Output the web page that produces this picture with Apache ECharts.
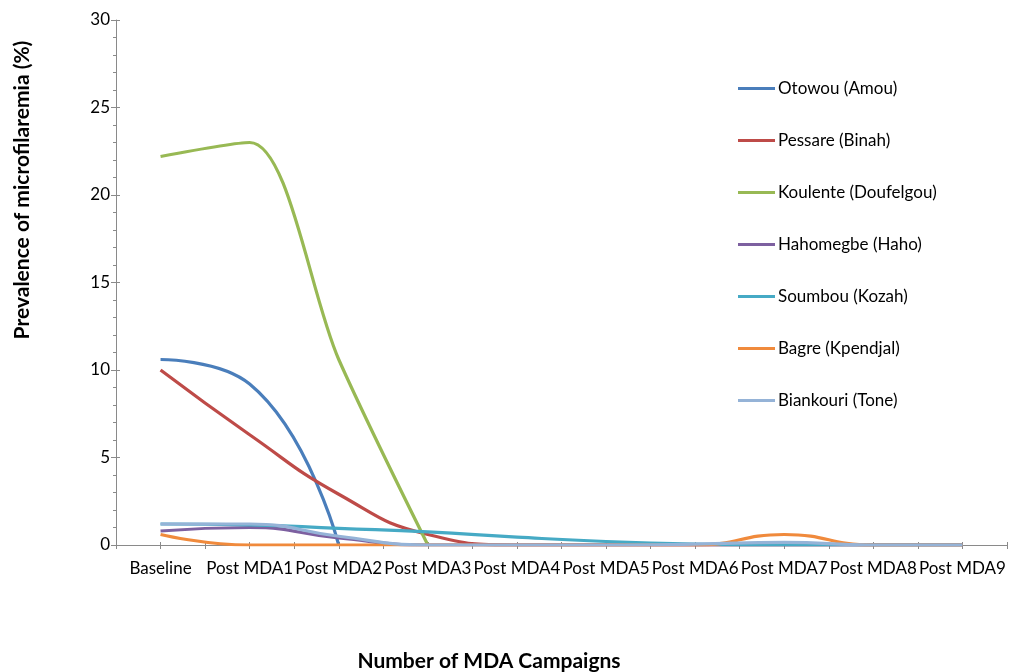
<!DOCTYPE html>
<html>
<head>
<meta charset="utf-8">
<script src="https://cdn.jsdelivr.net/npm/echarts@6/dist/echarts.min.js"></script>
<style>
html,body{margin:0;padding:0;background:#fff;}
#chart{width:1009px;height:672px;}
</style>
</head>
<body>
<div id="chart"></div>
<script>
const categories = ['Baseline','Post MDA1','Post MDA2','Post MDA3','Post MDA4','Post MDA5','Post MDA6','Post MDA7','Post MDA8','Post MDA9'];
const yTicks = [0, 5, 10, 15, 20, 25, 30];

const otowou    = [10.6, 9.2, 0, null, null, null, null, null, null, null];
const pessare   = [10.0, 6.3, 2.9, 0.6, 0, 0, 0, 0, 0, 0];
const koulente  = [22.2, 23.0, 10.6, 0, null, null, null, null, null, null];
const hahomegbe = [0.8, 1.0, 0.4, 0, 0, 0, 0, 0, 0, 0];
const soumbou   = [1.2, 1.15, 0.95, 0.75, 0.45, 0.2, 0.05, 0, 0, 0];
const bagre     = [0.6, 0, 0, 0, 0, 0, 0, 0.6, 0, 0];
const biankouri = [1.2, 1.2, 0.5, 0, 0, 0, 0.05, 0.15, 0, 0];

const seriesNames = ['Otowou (Amou)','Pessare (Binah)','Koulente (Doufelgou)','Hahomegbe (Haho)','Soumbou (Kozah)','Bagre (Kpendjal)','Biankouri (Tone)'];
const seriesData = [otowou, pessare, koulente, hahomegbe, soumbou, bagre, biankouri];
const colors = ['#4A7EBB','#BE4B48','#98B954','#7D60A0','#46AAC5','#F08A3C','#95B3D7'];
const smoothing = [0.5, 0.5, 0.3, 0.5, 0.5, 0.5, 0.5];

const FONT = 'Lato';
const axisColor = '#8a8a8a';

const chart = echarts.init(document.getElementById('chart'));

function tickAxis(extra){
  return Object.assign({
    type:'category', data:categories, position:'bottom', boundaryGap:true,
    axisLine:{show:false}, axisLabel:{show:false}, splitLine:{show:false},
    axisTick:{show:true, interval:0, length:4, lineStyle:{color:axisColor, width:1}}
  }, extra);
}

const option = {
  animation:false,
  color: colors,
  grid:{left:116, right:2, top:20, bottom:127, containLabel:false},
  legend:{
    orient:'vertical', left:733, top:75, itemGap:35,
    icon:'rect', itemWidth:37, itemHeight:3,
    data: seriesNames,
    textStyle:{fontFamily:FONT, fontSize:17, color:'#000', padding:[0,0,0,-2]}
  },
  xAxis:[
    {
      type:'category', data:categories, position:'bottom', boundaryGap:true,
      axisLine:{show:true, lineStyle:{color:axisColor, width:1}},
      axisTick:{show:true, interval:0, length:4, lineStyle:{color:axisColor, width:1}},
      axisLabel:{interval:0, margin:15, fontFamily:FONT, fontSize:17, color:'#000'},
      splitLine:{show:false}
    },
    tickAxis({axisTick:{show:true, interval:0, alignWithLabel:true, length:4, lineStyle:{color:axisColor, width:1}}}),
    tickAxis({axisTick:{show:true, interval:0, inside:true, length:3, lineStyle:{color:axisColor, width:1}}}),
    tickAxis({axisTick:{show:true, interval:0, inside:true, alignWithLabel:true, length:3, lineStyle:{color:axisColor, width:1}}})
  ],
  yAxis:[
    {
      type:'value', min:yTicks[0], max:yTicks[yTicks.length-1], interval:5,
      axisLine:{show:true, lineStyle:{color:axisColor, width:1}},
      axisTick:{show:true, length:5, lineStyle:{color:axisColor}},
      minorTick:{show:true, splitNumber:5, length:3, lineStyle:{color:axisColor}},
      axisLabel:{margin:6, fontFamily:FONT, fontSize:17, color:'#000'},
      splitLine:{show:false}
    },
    {
      type:'value', position:'left', min:yTicks[0], max:yTicks[yTicks.length-1], interval:5,
      axisLine:{show:false},
      axisTick:{show:true, inside:true, length:4, lineStyle:{color:axisColor}},
      minorTick:{show:false},
      axisLabel:{show:false},
      splitLine:{show:false}
    }
  ],
  series: seriesNames.map((n,i)=>({
    name:n, type:'line', data:seriesData[i], xAxisIndex:0, yAxisIndex:0,
    smooth:smoothing[i], showSymbol:false, symbol:'none', connectNulls:false,
    lineStyle:{width:3.2, color:colors[i]}, itemStyle:{color:colors[i]}
  })),
  graphic:[
    {type:'text', x:489, y:661, style:{text:'Number of MDA Campaigns', fontFamily:FONT, fontWeight:'bold', fontSize:21, fill:'#000', textAlign:'center', textVerticalAlign:'middle'}},
    {type:'text', rotation:Math.PI/2, x:22, y:190, style:{text:'Prevalence of microfilaremia (%)', fontFamily:FONT, fontWeight:'bold', fontSize:21, fill:'#000', textAlign:'center', textVerticalAlign:'middle'}}
  ]
};
chart.setOption(option);
</script>
</body>
</html>
